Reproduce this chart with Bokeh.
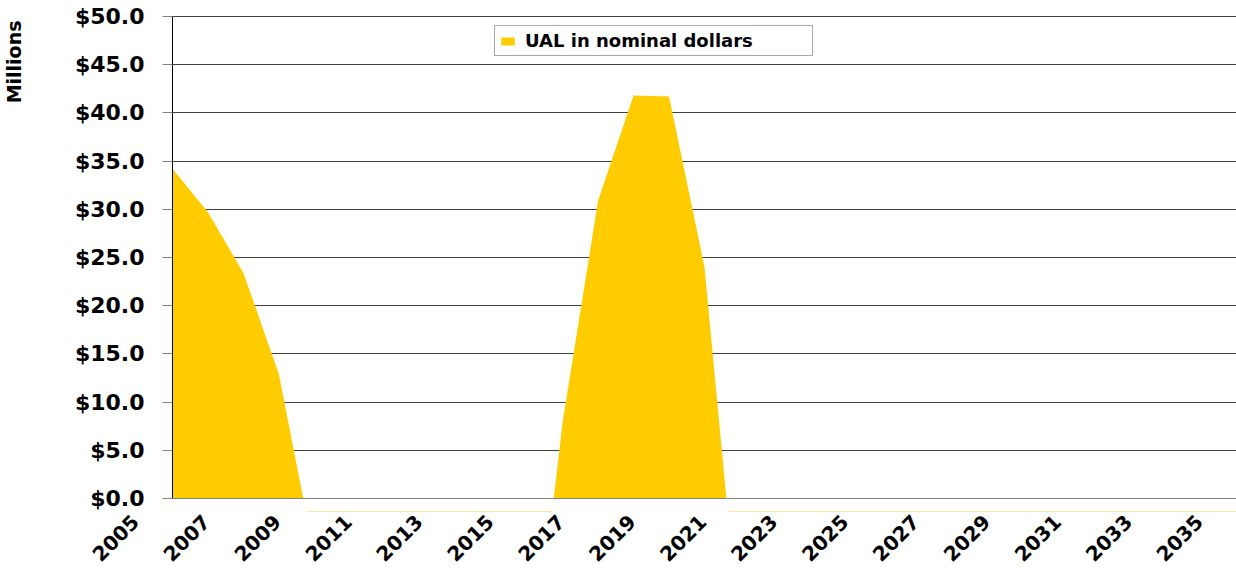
import math
from bokeh.plotting import figure
from bokeh.models import (Range1d, FixedTicker, LinearAxis, Title, BoxAnnotation,
                          Legend, LegendItem)
from bokeh.embed import file_html
from bokeh.resources import INLINE

# ---- data ----
years = list(range(2005, 2036))
ual = [34.2, 29.7, 23.4, 12.9, -5.9, -15.0, -22.0, -27.0, -29.0, -27.0,
       -23.7, 7.9, 30.9, 41.8, 41.7, 24.0, -14.9, -30.0, -38.0, -42.0,
       -45.0, -48.0, -50.0, -52.0, -54.0, -56.0, -58.0, -60.0, -62.0, -64.0, -66.0]
series_name = "UAL in nominal dollars"

x_tick_years = list(range(2005, 2036, 2))
x_tick_labels = [str(y) for y in x_tick_years]
y_ticks = [0, 5, 10, 15, 20, 25, 30, 35, 40, 45, 50]
y_tick_labels = ["$0.0", "$5.0", "$10.0", "$15.0", "$20.0", "$25.0",
                 "$30.0", "$35.0", "$40.0", "$45.0", "$50.0"]
y_title = "Millions"
y_min, y_max = 0, 50

FONT = "DejaVu Sans"
YELLOW = "#FFCC00"

# ---- layout (pixels) ----
W, H = 1236, 571
FRAME_L, FRAME_T, FRAME_B = 24, 2, 511   # frame larger than the plot box so axis labels are not clipped
AXIS_X = 172                             # value axis (first year)
PLOT_T, PLOT_B = 16, 498                 # pixel rows of y_max and y_min
PX = (W - AXIS_X) / (years[-1] - years[0])
PY = (PLOT_B - PLOT_T) / (y_max - y_min)
LABEL_SHIFT = 37                          # rotated year labels sit left of their category
d = LABEL_SHIFT / PX

x0 = years[0] - (AXIS_X - FRAME_L) / PX
x1 = years[-1]
y0 = y_min - (FRAME_B - PLOT_B) / PY
y1 = y_max + (PLOT_T - FRAME_T) / PY

p = figure(width=W, height=H, title=None,
           x_range=Range1d(x0, x1), y_range=Range1d(y0, y1),
           output_backend="svg", toolbar_location=None,
           min_border_left=FRAME_L, min_border_right=0, min_border_top=FRAME_T,
           min_border_bottom=H - FRAME_B)
p.outline_line_color = None
p.background_fill_color = "white"
p.extra_x_ranges = {"lab": Range1d(x0 + d, x1 + d)}

# area
r = p.varea(x=years, y1=0, y2=ual, fill_color=YELLOW)
# keep the area inside the plot box (nothing drawn below the zero line)
p.add_layout(BoxAnnotation(top=y_min, fill_color="white", fill_alpha=1.0,
                           line_color=None, level="glyph"))

# x axis line at zero, from the first to the last year
p.xaxis.fixed_location = y_min
p.xaxis.ticker = FixedTicker(ticks=[])
p.xaxis.bounds = (years[0], years[-1])
p.xaxis.axis_line_color = "#808080"
p.xaxis.major_tick_line_color = None
p.xaxis.major_tick_out = 0
p.xaxis.major_tick_in = 0
p.xaxis.minor_tick_line_color = None
p.xaxis.major_label_standoff = 0
p.xgrid.visible = False

# rotated year labels
lab_axis = LinearAxis(x_range_name="lab", ticker=FixedTicker(ticks=x_tick_years),
                      major_label_overrides={t: l for t, l in zip(x_tick_years, x_tick_labels)})
lab_axis.axis_line_color = None
lab_axis.major_tick_line_color = None
lab_axis.minor_tick_line_color = None
lab_axis.major_tick_out = 0
lab_axis.major_tick_in = 0
lab_axis.major_label_orientation = math.pi / 4
lab_axis.major_label_standoff = 7
lab_axis.major_label_text_font = FONT
lab_axis.major_label_text_font_style = "bold"
lab_axis.major_label_text_font_size = "20px"
lab_axis.major_label_text_color = "black"
p.add_layout(lab_axis, "below")

# y axis at the first year
p.yaxis.fixed_location = years[0]
p.yaxis.bounds = (y_min, y_max)
p.yaxis.ticker = FixedTicker(ticks=y_ticks)
p.yaxis.major_label_overrides = {t: l for t, l in zip(y_ticks, y_tick_labels)}
p.yaxis.axis_line_color = "black"
p.yaxis.major_tick_out = 10
p.yaxis.major_tick_in = 0
p.yaxis.major_tick_line_color = "#808080"
p.yaxis.minor_tick_line_color = None
p.yaxis.major_label_text_font = FONT
p.yaxis.major_label_text_font_style = "bold"
p.yaxis.major_label_text_font_size = "22px"
p.yaxis.major_label_text_color = "black"
p.yaxis.major_label_standoff = 18
p.ygrid.grid_line_color = "#404040"
p.ygrid.grid_line_width = 1
p.ygrid.cross_bounds = (years[0], years[-1])

# y title at the top left
p.add_layout(Title(text=y_title, align="right", standoff=0, offset=18,
                   vertical_align="bottom",
                   text_font=FONT, text_font_style="bold",
                   text_font_size="19px", text_color="black"), "left")

legend = Legend(items=[LegendItem(label=series_name, renderers=[r])],
                location=(322 + AXIS_X - FRAME_L, FRAME_B - 56), padding=4, margin=0,
                glyph_width=17, glyph_height=10, label_standoff=9,
                label_width=283, label_height=20,
                label_text_font=FONT, label_text_font_style="bold",
                label_text_font_size="18px", label_text_color="black",
                border_line_color="#555555", border_line_width=1,
                background_fill_color="white", background_fill_alpha=1.0)
p.add_layout(legend)

open("out.html", "w").write(file_html(p, INLINE))
